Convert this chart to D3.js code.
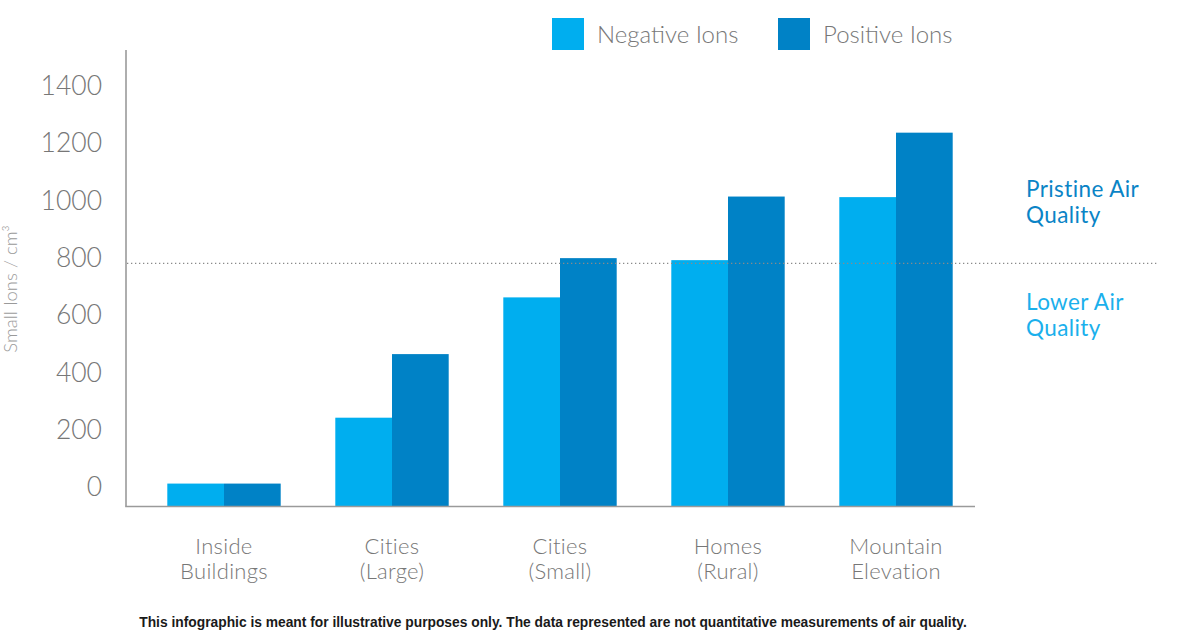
<!DOCTYPE html>
<html>
<head>
<meta charset="utf-8">
<script src="https://cdn.jsdelivr.net/npm/d3@7"></script>
<style>
  html, body { margin: 0; padding: 0; background: #fff; }
  svg { display: block; }
  text { font-family: Lato, "Open Sans", "DejaVu Sans", sans-serif; }
</style>
</head>
<body>
<svg id="chart" width="1178" height="640"></svg>
<script>
// ---- data ----
const categories = [["Inside", "Buildings"], ["Cities", "(Large)"], ["Cities", "(Small)"], ["Homes", "(Rural)"], ["Mountain", "Elevation"]];
const negativeIons = [10, 240, 660, 790, 1010];
const positiveIons = [10, 462, 797, 1012, 1235];
const seriesNames = ["Negative Ions", "Positive Ions"];
const yTicks = [0, 200, 400, 600, 800, 1000, 1200, 1400];
const thresholdValue = 779;
const yTitle = "Small Ions / cm³";
const zoneLabels = [["Pristine Air", "Quality"], ["Lower Air", "Quality"]];
const footnote = "This infographic is meant for illustrative purposes only. The data represented are not quantitative measurements of air quality.";

const colors = ["#00aeef", "#0082c6"];

const svg = d3.select("#chart");

const x = d3.scaleBand()
  .domain(d3.range(categories.length))
  .range([140, 980])
  .paddingInner(0.325)
  .paddingOuter(0.1625);

const xSub = d3.scaleBand()
  .domain([0, 1])
  .range([0, x.bandwidth()]);

const y = d3.scaleLinear()
  .domain([-70, 1400])
  .range([506.5, 85.4]);

const baseline = y(-70);

// bars
const seriesData = [negativeIons, positiveIons];
seriesData.forEach((vals, s) => {
  svg.append("g").selectAll("rect")
    .data(vals)
    .join("rect")
    .attr("x", (d, i) => x(i) + xSub(s))
    .attr("width", xSub.bandwidth())
    .attr("y", d => y(d))
    .attr("height", d => baseline - y(d))
    .attr("fill", colors[s]);
});

// axes lines
svg.append("line")
  .attr("x1", 126).attr("x2", 126)
  .attr("y1", 50).attr("y2", baseline)
  .attr("stroke", "#9a9a9a").attr("stroke-width", 1.6);
svg.append("line")
  .attr("x1", 125.2).attr("x2", 975)
  .attr("y1", baseline).attr("y2", baseline)
  .attr("stroke", "#9a9a9a").attr("stroke-width", 1.6);

// y tick labels
const yAxis = d3.axisLeft(y).tickValues(yTicks).tickFormat(d3.format("d")).tickSize(0).tickPadding(0);
const gy = svg.append("g").attr("transform", "translate(102,0)").call(yAxis);
gy.select(".domain").remove();
gy.selectAll("text")
  .attr("fill", "#777")
  .attr("font-size", 26.5)
  .attr("font-weight", 300)
  .style("font-family", 'Lato, "Open Sans", sans-serif')
  .attr("dy", "0.35em");

// y title
svg.append("text")
  .attr("transform", "translate(17,289) rotate(-90)")
  .attr("text-anchor", "middle")
  .attr("fill", "#9a9a9a")
  .attr("font-size", 18.5)
  .attr("font-weight", 300)
  .text(yTitle);

// category labels
const cat = svg.append("g").selectAll("text")
  .data(categories)
  .join("text")
  .attr("text-anchor", "middle")
  .attr("fill", "#777")
  .attr("font-size", 22)
  .attr("font-weight", 300)
  .attr("letter-spacing", 0.3);
cat.each(function(d, i) {
  const t = d3.select(this);
  d.forEach((line, k) => {
    t.append("tspan")
      .attr("x", x(i) + x.bandwidth() / 2)
      .attr("y", 554 + k * 25)
      .text(line);
  });
});

// threshold dotted line (drawn above bars)
svg.append("line")
  .attr("x1", 127).attr("x2", 1158)
  .attr("y1", y(thresholdValue)).attr("y2", y(thresholdValue))
  .attr("stroke", "#8a8a8a")
  .attr("stroke-width", 1.3)
  .attr("stroke-dasharray", "1.3,2.7");

// zone labels
const zoneColors = ["#0a84c6", "#1ab0ec"];
const zoneY = [197, 310];
zoneLabels.forEach((lines, z) => {
  const t = svg.append("text")
    .attr("fill", zoneColors[z])
    .attr("font-size", 22.5)
    .attr("font-weight", 400)
    .attr("letter-spacing", 0.4);
  lines.forEach((line, k) => {
    t.append("tspan").attr("x", 1026).attr("y", zoneY[z] + k * 25.5).text(line);
  });
});

// legend
const legendX = [552, 778];
seriesNames.forEach((name, s) => {
  svg.append("rect")
    .attr("x", legendX[s]).attr("y", 18)
    .attr("width", 32).attr("height", 32)
    .attr("fill", colors[s]);
  svg.append("text")
    .attr("x", legendX[s] + 45).attr("y", 43)
    .attr("fill", "#777")
    .attr("font-size", 24)
    .attr("font-weight", 300)
    .text(name);
});

// footnote
svg.append("text")
  .attr("x", 553).attr("y", 627)
  .attr("text-anchor", "middle")
  .attr("fill", "#1a1a1a")
  .attr("font-size", 13.8)
  .attr("font-weight", 700)
  .style("font-family", '"Liberation Sans", Arial, sans-serif')
  .text(footnote);
</script>
</body>
</html>
